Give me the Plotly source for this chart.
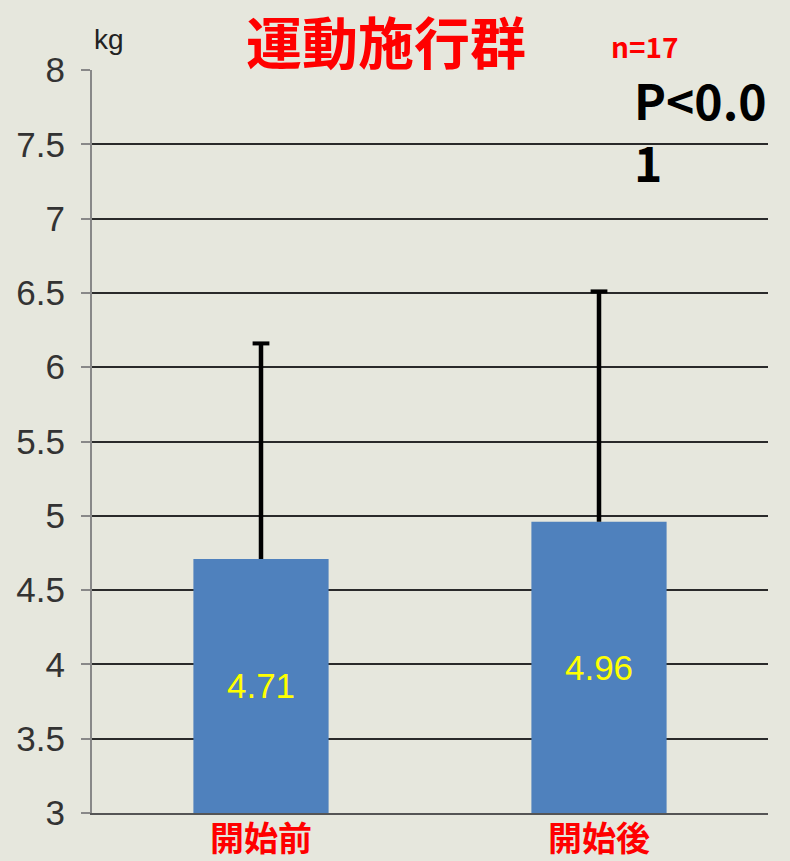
import plotly.graph_objects as go

# Grip strength before/after the exercise programme
categories = ["開始前", "開始後"]
means = [4.71, 4.96]
sd_upper = [1.45, 1.55]
y_ticks = [3, 3.5, 4, 4.5, 5, 5.5, 6, 6.5, 7, 7.5, 8]
y_tick_text = ["3", "3.5", "4", "4.5", "5", "5.5", "6", "6.5", "7", "7.5", "8"]

BG = "#e6e7dd"
CJK = "Noto Sans CJK JP"
LATIN = "Liberation Sans, Arial, sans-serif"

W, H = 790, 861
ML, MR, MT, MB = 92, 22, 70, 48

fig = go.Figure()

# upper-only SD whiskers: stem from the bar top to mean+SD, cap at the end
for cat, m, s in zip(categories, means, sd_upper):
    fig.add_trace(go.Scatter(
        x=[cat, cat], y=[m, m + s], mode="lines",
        line=dict(color="#000000", width=4.5), hoverinfo="skip",
    ))
fig.add_trace(go.Scatter(
    x=categories, y=[m + s for m, s in zip(means, sd_upper)], mode="markers",
    marker=dict(symbol="line-ew", size=12, line=dict(color="#000000", width=4)),
    hoverinfo="skip",
))

fig.add_trace(go.Bar(
    x=categories,
    y=[m - 3 for m in means],
    base=3,
    marker=dict(color="#4f81bd", line=dict(width=0)),
    text=[f"{m:.2f}" for m in means],
    textposition="inside",
    insidetextanchor="middle",
    textangle=0,
    textfont=dict(family=LATIN, size=35, color="#ffff00"),
    hoverinfo="skip",
))

fig.update_layout(
    width=W, height=H,
    margin=dict(l=ML, r=MR, t=MT, b=MB),
    paper_bgcolor=BG, plot_bgcolor=BG,
    bargap=0.6,
    showlegend=False,
    xaxis=dict(
        showgrid=False, showline=True, linecolor="#555555", linewidth=2,
        ticks="", automargin=False, showticklabels=False,
    ),
    yaxis=dict(
        range=[3, 8], tickvals=y_ticks, ticktext=y_tick_text,
        showgrid=True, gridcolor="#2a2a2a", gridwidth=1.5,
        showline=True, linecolor="#888888", linewidth=2,
        ticks="outside", ticklen=9, tickcolor="#888888", tickwidth=1.5,
        tickfont=dict(family=LATIN, size=35, color="#333333"),
        ticklabelstandoff=9, zeroline=False, automargin=False,
    ),
)

# headline texts positioned in pixels, converted to paper coordinates
def px(x, y):
    return (x - ML) / (W - ML - MR), (H - MB - y) / (H - MT - MB)

ann = []
for text, x, y, font, xanchor in [
    ("運動施行群", 386, 39, dict(family=CJK, size=56, color="#ff0000", weight="bold"), "center"),
    ("kg", 92, 40, dict(family=LATIN, size=28, color="#222222"), "left"),
    ("n=17", 609, 46, dict(family=CJK, size=28, color="#ff0000", weight="bold"), "left"),
    ("P<0.0<br>1", 632, 130, dict(family=CJK, size=48, color="#000000", weight="bold"), "left"),
]:
    ax, ay = px(x, y)
    ann.append(dict(text=text, x=ax, y=ay, xref="paper", yref="paper", showarrow=False,
                    xanchor=xanchor, yanchor="middle", align="left", font=font))

# category labels under each bar
for cat in categories:
    ann.append(dict(text=cat, x=cat, xref="x", y=px(0, 836)[1], yref="paper",
                    showarrow=False, xanchor="center", yanchor="middle",
                    font=dict(family=CJK, size=34, color="#ff0000", weight="bold")))
fig.update_layout(annotations=ann)

fig.write_html("out.html")
